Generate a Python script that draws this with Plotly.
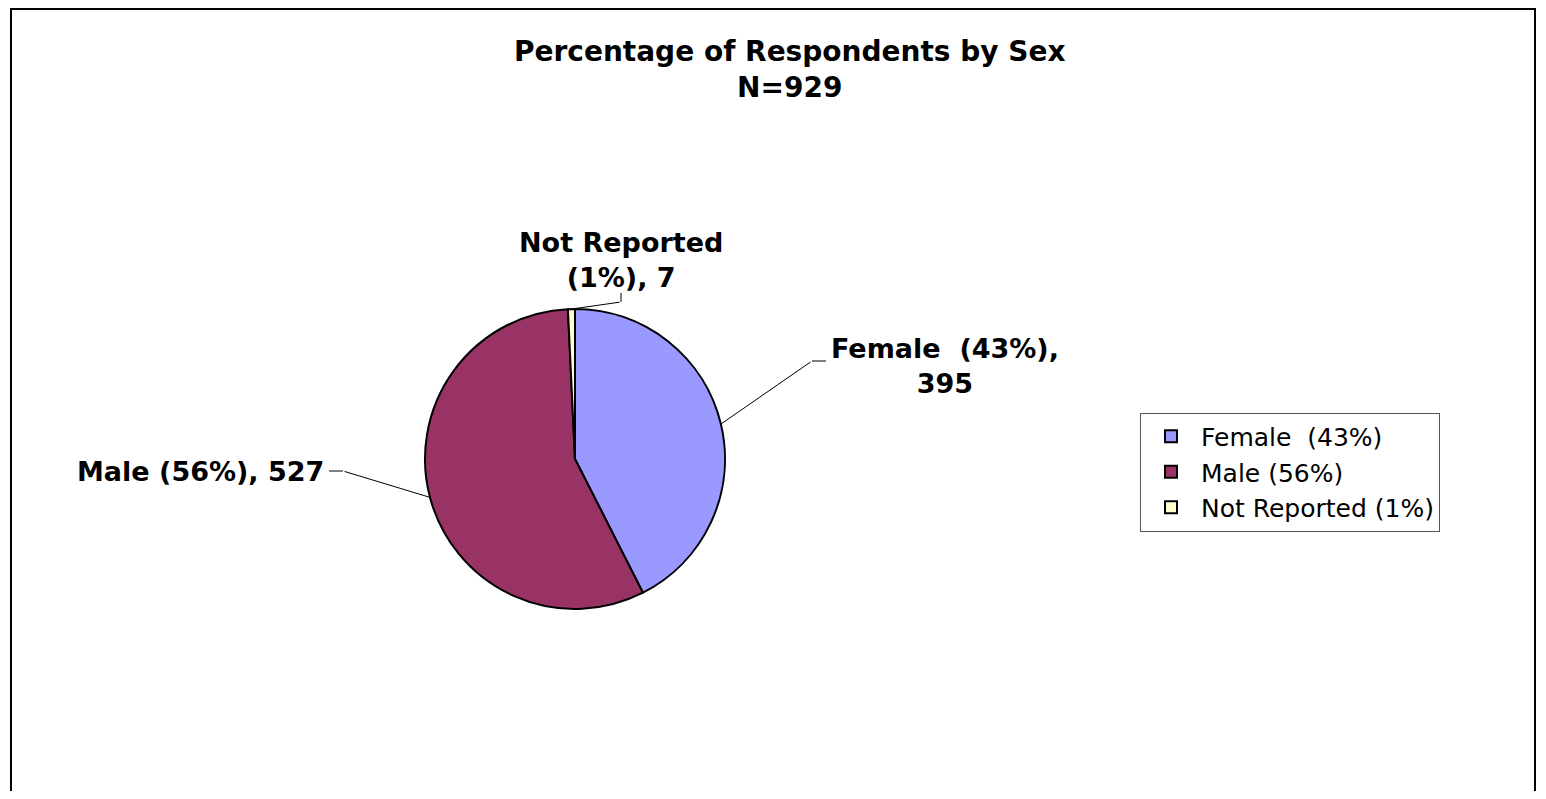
import math
import plotly.graph_objects as go

# ---- data ----
categories = ["Female", "Male", "Not Reported"]
counts = [395, 527, 7]
percents = [43, 56, 1]
legend_labels = ["Female  (43%)", "Male (56%)", "Not Reported (1%)"]
colors = ["#9999FF", "#993366", "#FFFFCC"]
title_lines = ["Percentage of Respondents by Sex", "N=929"]

# page body has an 8px margin; figure sized so the page fits the window
OFF = 8
W, H = 1546 - OFF, 799 - 2 * OFF
FONT = "DejaVu Sans, Arial, sans-serif"

def px(x):
    return (x - OFF) / W

def py(y):
    return 1 - (y - OFF) / H

# pie placement (screen pixels)
cx, cy, R = 575, 459, 150

fig = go.Figure()
fig.add_trace(go.Pie(
    labels=legend_labels,
    values=counts,
    marker=dict(colors=colors, line=dict(color="black", width=2)),
    sort=False,
    direction="clockwise",
    rotation=0,
    textinfo="none",
    hoverinfo="label+value",
    domain=dict(x=[px(cx - R), px(cx + R)], y=[py(cy + R), py(cy - R)]),
))

# data labels with elbowed leader lines pointing at slice mid-angles
total = sum(counts)
label_pos = {
    "Female": dict(x=945, y=366, xanchor="center", align="center",
                   tail=(826, 361), elbow=(812, 361)),
    "Male": dict(x=326, y=471, xanchor="right", align="right",
                 tail=(329, 471), elbow=(343, 471)),
    "Not Reported": dict(x=621, y=260, xanchor="center", align="center",
                         tail=(621, 293), elbow=(621, 302)),
}
cum = 0
for cat, n, p in zip(categories, counts, percents):
    mid = (cum + n / 2) / total * 2 * math.pi
    cum += n
    ex = cx + R * math.sin(mid)
    ey = cy - R * math.cos(mid)
    if cat == "Female":
        text = f"{cat}  ({p}%),<br>{n}"
    elif cat == "Not Reported":
        text = f"{cat}<br>({p}%), {n}"
    else:
        text = f"{cat} ({p}%), {n}"
    lp = label_pos[cat]
    bx, by = lp["elbow"]
    tx, ty = lp["tail"]
    fig.add_annotation(
        x=px(ex), y=py(ey), xref="paper", yref="paper",
        ax=bx - ex, ay=by - ey,
        text="", showarrow=True, arrowhead=0, arrowwidth=1, arrowcolor="black",
    )
    fig.add_shape(type="line", xref="paper", yref="paper",
                  x0=px(tx), y0=py(ty), x1=px(bx), y1=py(by),
                  line=dict(color="black", width=1))
    fig.add_annotation(
        x=px(lp["x"]), y=py(lp["y"]), xref="paper", yref="paper",
        text=f"<b>{text}</b>", showarrow=False,
        xanchor=lp["xanchor"], yanchor="middle", align=lp["align"],
        font=dict(family=FONT, size=27, color="black"),
    )

# title
fig.add_annotation(
    x=px(790), y=py(69), xref="paper", yref="paper",
    text="<b>" + "<br>".join(title_lines) + "</b>", showarrow=False,
    xanchor="center", yanchor="middle", align="center",
    font=dict(family=FONT, size=28, color="black"),
)

# outer frame
fig.add_shape(type="rect", xref="paper", yref="paper",
              x0=px(11), x1=px(1535), y0=py(815), y1=py(9),
              line=dict(color="black", width=2), fillcolor="rgba(0,0,0,0)")

fig.update_layout(
    width=W, height=H,
    margin=dict(l=0, r=0, t=0, b=0),
    paper_bgcolor="white", plot_bgcolor="white",
    showlegend=True,
    legend=dict(
        x=px(1140), y=py(472), xanchor="left", yanchor="middle",
        font=dict(family=FONT, size=25, color="black"),
        bordercolor="#555555", borderwidth=1, bgcolor="white",
        itemclick=False, itemwidth=50,
    ),
)

fig.write_html("out.html")
